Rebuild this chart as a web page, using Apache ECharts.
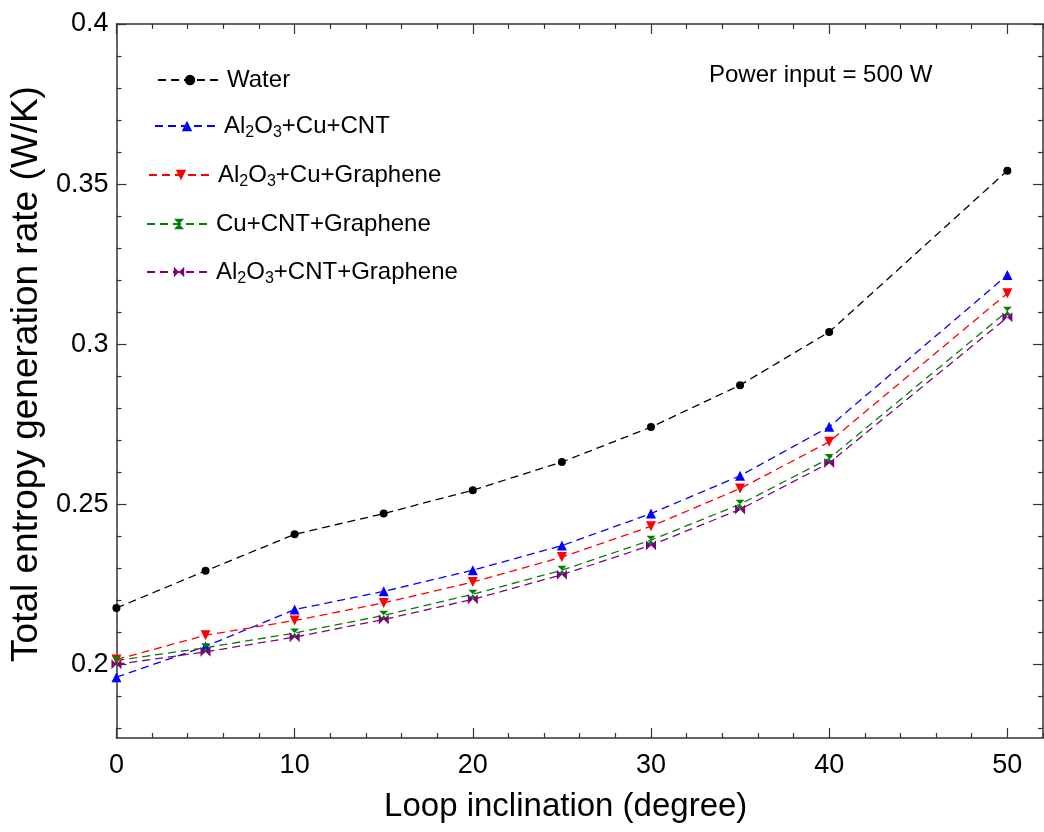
<!DOCTYPE html>
<html>
<head>
<meta charset="utf-8">
<script src="https://cdn.jsdelivr.net/npm/echarts@6/dist/echarts.min.js"></script>
<style>
html,body{margin:0;padding:0;background:#fff;}
#chart{width:1044px;height:832px;}
</style>
</head>
<body>
<div id="chart"></div>
<script>
const inclination = [0, 5, 10, 15, 20, 25, 30, 35, 40, 50];
const seriesNames = ['Water', 'Al2O3+Cu+CNT', 'Al2O3+Cu+Graphene', 'Cu+CNT+Graphene', 'Al2O3+CNT+Graphene'];
const water      = [0.2176, 0.2292, 0.2406, 0.2471, 0.2544, 0.2632, 0.2741, 0.2872, 0.3038, 0.3542];
const alCuCnt    = [0.1960, 0.2056, 0.2171, 0.2228, 0.2294, 0.2371, 0.2471, 0.2589, 0.2742, 0.3216];
const alCuGraph  = [0.2015, 0.2091, 0.2137, 0.2192, 0.2257, 0.2335, 0.2431, 0.2549, 0.2695, 0.3159];
const cuCntGraph = [0.2012, 0.2052, 0.2098, 0.2153, 0.2219, 0.2294, 0.2388, 0.2500, 0.2643, 0.3103];
const alCntGraph = [0.2000, 0.2039, 0.2085, 0.2140, 0.2203, 0.2280, 0.2372, 0.2484, 0.2629, 0.3084];
const xMajorTicks = [0, 10, 20, 30, 40, 50];
const xMinorTicks = [2, 4, 6, 8, 12, 14, 16, 18, 22, 24, 26, 28, 32, 34, 36, 38, 42, 44, 46, 48, 52];
const yMajorTicks = [0.2, 0.25, 0.3, 0.35, 0.4];
const yMinorTicks = [0.18, 0.19, 0.21, 0.22, 0.23, 0.24, 0.26, 0.27, 0.28, 0.29, 0.31, 0.32, 0.33, 0.34, 0.36, 0.37, 0.38, 0.39];
const annotation = 'Power input = 500 W';

const FONT = 'Liberation Sans, Arial, sans-serif';
const X_MIN = 0, X_MAX = 52, Y_MIN = 0.177, Y_MAX = 0.4;
const axisCol = '#333';

function pairs(ys) { return inclination.map((x, i) => [x, ys[i]]); }

const colors = ['#000000', '#0000ff', '#ff0000', '#008000', '#800080'];
const symbols = [
  'circle',
  'triangle',
  'path://M0,0 L10,0 L5,10 Z',
  'path://M0,0 L10,0 L5,5 L10,10 L0,10 L5,5 Z',
  'path://M0,0 L5,5 L10,0 L10,10 L5,5 L0,10 Z'
];
const sizes = [8, 10, 10, 9, 10];
const allData = [water, alCuCnt, alCuGraph, cuCntGraph, alCntGraph];
const legendLeft = [157, 154, 148, 146, 146];
const legendMid = [80, 126, 175, 224, 272];

function xAxisDef(pos, ticks, len, showLine, showLabel) {
  return {
    type: 'value', position: pos, min: X_MIN, max: X_MAX,
    axisLine: { show: showLine, onZero: false, lineStyle: { color: axisCol, width: 1.5 } },
    axisTick: { show: true, inside: true, length: len, customValues: ticks, lineStyle: { color: axisCol, width: 1.2 } },
    axisLabel: showLabel ? { show: true, customValues: ticks, margin: 14, fontSize: 27, color: '#000', fontFamily: FONT } : { show: false },
    splitLine: { show: false }
  };
}
function yAxisDef(pos, ticks, len, showLine, showLabel) {
  return {
    type: 'value', position: pos, min: Y_MIN, max: Y_MAX,
    axisLine: { show: showLine, onZero: false, lineStyle: { color: axisCol, width: 1.5 } },
    axisTick: { show: true, inside: true, length: len, customValues: ticks, lineStyle: { color: axisCol, width: 1.2 } },
    axisLabel: showLabel ? { show: true, customValues: ticks, margin: 8, fontSize: 27, color: '#000', fontFamily: FONT } : { show: false },
    splitLine: { show: false }
  };
}

const xAxes = [
  Object.assign(xAxisDef('bottom', xMajorTicks, 10, true, true), {
    name: 'Loop inclination (degree)', nameLocation: 'middle', nameGap: 52,
    nameTextStyle: { fontSize: 33, color: '#000', fontFamily: FONT, padding: [0, 28, 0, 0] }
  }),
  xAxisDef('bottom', xMinorTicks, 5, false, false),
  xAxisDef('top', xMajorTicks, 10, true, false),
  xAxisDef('top', xMinorTicks, 5, false, false)
];
const yAxes = [
  Object.assign(yAxisDef('left', yMajorTicks, 10, true, true), {
    name: 'Total entropy generation rate (W/K)', nameLocation: 'middle', nameGap: 68,
    nameTextStyle: { fontSize: 37, color: '#000', fontFamily: FONT, padding: [0, 0, 0, 14] }
  }),
  yAxisDef('left', yMinorTicks, 5, false, false),
  yAxisDef('right', yMajorTicks, 10, true, false),
  yAxisDef('right', yMinorTicks, 5, false, false)
];

const series = seriesNames.map((name, i) => ({
  name: name, type: 'line', xAxisIndex: 0, yAxisIndex: 0,
  data: pairs(allData[i]),
  symbol: symbols[i], symbolSize: sizes[i],
  itemStyle: { color: colors[i] },
  lineStyle: { color: colors[i], width: 1.3, type: [8, 5] },
  emphasis: { disabled: true },
  animation: false
}));

const legends = seriesNames.map((name, i) => ({
  orient: 'vertical', left: legendLeft[i], top: legendMid[i] - 15,
  padding: 0,
  itemWidth: 64, itemHeight: 13, itemGap: 0,
  data: [name],
  selectedMode: false,
  formatter: function (n) { return n.replace('Al2O3', 'Al{s|2}O{s|3}'); },
  textStyle: {
    fontSize: 24, color: '#000', fontFamily: FONT, lineHeight: 30,
    rich: { s: { fontSize: 16, fontFamily: FONT, color: '#000', verticalAlign: 'bottom', lineHeight: 30 } }
  }
}));

const chart = echarts.init(document.getElementById('chart'), null, { renderer: 'canvas' });
chart.setOption({
  backgroundColor: '#fff',
  animation: false,
  grid: { left: 115, right: 1, top: 24, bottom: 94, containLabel: false },
  xAxis: xAxes,
  yAxis: yAxes,
  legend: legends,
  graphic: [{
    type: 'text', left: 709, top: 63,
    style: { text: annotation, fontSize: 24, fontFamily: FONT, fill: '#000' }
  }],
  series: series
});
</script>
</body>
</html>
